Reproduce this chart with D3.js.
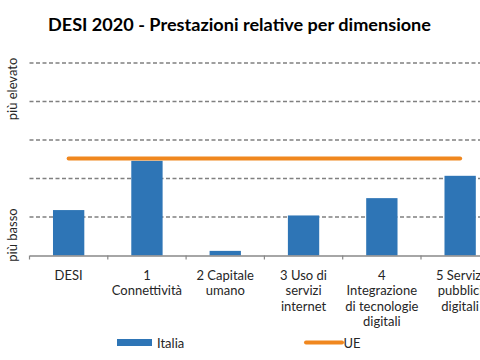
<!DOCTYPE html>
<html><head><meta charset="utf-8">
<script src="https://cdn.jsdelivr.net/npm/d3@7"></script>
<style>body{margin:0;background:#fff}svg{display:block}</style>
</head><body>
<svg id="c" width="480" height="360"></svg>
<script>
const categories = [
  ["DESI"],
  ["1", "Connettività"],
  ["2 Capitale", "umano"],
  ["3 Uso di", "servizi", "internet"],
  ["4", "Integrazione", "di tecnologie", "digitali"],
  ["5 Servizi", "pubblici", "digitali"]
];
const italia = [1.18, 2.46, 0.12, 1.04, 1.49, 2.07];
const ue = [2.52, 2.52, 2.52, 2.52, 2.52, 2.52];
const yTicks = [1, 2, 3, 4, 5];
const title = "DESI 2020 - Prestazioni relative per dimensione";

const svg = d3.select("#c");
const font = "Lato, 'Open Sans', sans-serif";
const blue = "#2e75b6", orange = "#f0871f";

const x = d3.scaleBand().domain(d3.range(categories.length)).range([29.5, 499.3]).padding(0);
const y = d3.scaleLinear().domain([0, 5]).range([255.5, 63]);
const bw = x.bandwidth() * 0.4;

// title
svg.append("text").attr("x", 48).attr("y", 31)
  .attr("font-family", font).attr("font-weight", "bold").attr("font-size", 16.5)
  .attr("fill", "#000").attr("textLength", 383).attr("lengthAdjust", "spacingAndGlyphs")
  .text(title);

// gridlines
svg.append("g").selectAll("line").data(yTicks).join("line")
  .attr("x1", 29.5).attr("x2", 480)
  .attr("y1", d => y(d)).attr("y2", d => y(d))
  .attr("stroke", "#808080").attr("stroke-width", 1.5).attr("stroke-dasharray", "4,2.5");

// bars
svg.append("g").selectAll("rect").data(italia).join("rect")
  .attr("x", (d, i) => x(i) + (x.bandwidth() - bw) / 2)
  .attr("width", bw)
  .attr("y", d => y(d))
  .attr("height", d => y(0) - y(d))
  .attr("fill", blue);

// x axis
const axis = d3.axisBottom(x).tickSize(0).tickFormat("");
const gx = svg.append("g").attr("transform", `translate(0,${y(0)})`).call(axis);
gx.select(".domain").attr("stroke", "#888").attr("stroke-width", 1.5);
gx.selectAll(".tick").remove();
const bounds = d3.range(categories.length + 1).map(i => i < categories.length ? x(i) : x(i - 1) + x.bandwidth());
gx.selectAll("line.tk").data(bounds).join("line").attr("class", "tk")
  .attr("x1", d => d).attr("x2", d => d).attr("y1", 0).attr("y2", 4)
  .attr("stroke", "#888").attr("stroke-width", 1.2);

// category labels
const lab = svg.append("g").selectAll("text").data(categories).join("text")
  .attr("font-family", font).attr("font-size", 13).attr("fill", "#262626")
  .attr("text-anchor", "middle");
lab.selectAll("tspan").data((d, i) => d.map(s => ({s, i}))).join("tspan")
  .attr("x", d => x(d.i) + x.bandwidth() / 2)
  .attr("y", (d, j) => 280 + j * 15.3)
  .text(d => d.s);

// UE line
const line = d3.line().x((d, i) => x(i) + x.bandwidth() / 2).y(d => y(d));
svg.append("path").datum(ue).attr("d", line)
  .attr("fill", "none").attr("stroke", orange).attr("stroke-width", 4).attr("stroke-linecap", "round");

// side labels
svg.append("text").attr("transform", "translate(17,89) rotate(-90)")
  .attr("text-anchor", "middle").attr("font-family", font).attr("font-size", 13).attr("fill", "#262626")
  .text("più elevato");
svg.append("text").attr("transform", "translate(17,235) rotate(-90)")
  .attr("text-anchor", "middle").attr("font-family", font).attr("font-size", 13).attr("fill", "#262626")
  .text("più basso");

// legend
svg.append("rect").attr("x", 117).attr("y", 339).attr("width", 35).attr("height", 7).attr("fill", blue);
svg.append("text").attr("x", 157).attr("y", 347.5).attr("font-family", font).attr("font-size", 13)
  .attr("fill", "#262626").text("Italia");
svg.append("line").attr("x1", 306).attr("x2", 342).attr("y1", 342.5).attr("y2", 342.5)
  .attr("stroke", orange).attr("stroke-width", 4).attr("stroke-linecap", "round");
svg.append("text").attr("x", 343.5).attr("y", 347.5).attr("font-family", font).attr("font-size", 13)
  .attr("fill", "#262626").text("UE");
</script>
</body></html>
